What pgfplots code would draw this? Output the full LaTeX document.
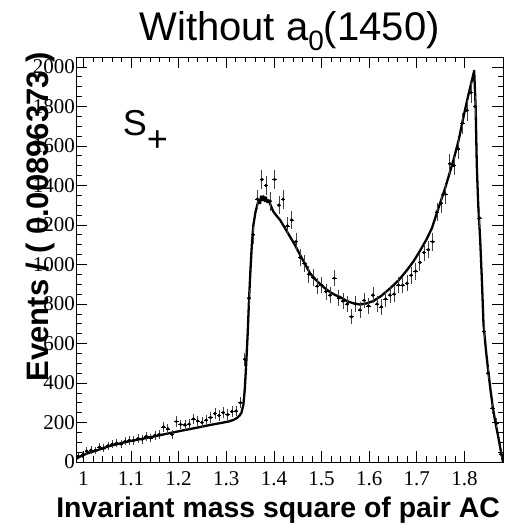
\documentclass[border=0pt]{standalone}
\usepackage{pgfplots}
\pgfplotsset{compat=1.18}
\usepackage{pgfplotstable}
\usepackage{fontspec}
\setmainfont{Liberation Serif}
\newfontfamily\hel{Liberation Sans}

\pgfplotstableread{
x y ey
0.9891 30 5.5
0.9980 35 6
1.0070 55 7.4
1.0160 60 7.7
1.0249 58 7.6
1.0339 75 8.7
1.0429 70 8.4
1.0518 82 9.1
1.0608 90 9.5
1.0698 95 9.7
1.0787 92 9.6
1.0877 105 10.2
1.0966 110 10.5
1.1056 108 10.4
1.1146 118 10.9
1.1235 115 10.7
1.1325 130 11.4
1.1415 122 11
1.1504 135 11.6
1.1594 140 11.8
1.1684 178 13.3
1.1773 168 13
1.1863 140 11.8
1.1953 205 14.3
1.2042 190 13.8
1.2132 188 13.7
1.2222 192 13.9
1.2311 218 14.8
1.2401 208 14.4
1.2491 200 14.1
1.2580 212 14.6
1.2670 225 15
1.2760 245 15.7
1.2849 235 15.3
1.2939 250 15.8
1.3029 240 15.5
1.3118 255 16
1.3208 258 16.1
1.3298 300 17.3
1.3387 520 22.8
1.3477 830 28.8
1.3567 1150 33.9
1.3656 1330 36.5
1.3746 1430 37.8
1.3836 1400 37.4
1.3925 1320 36.3
1.4015 1430 37.8
1.4105 1300 36.1
1.4194 1330 36.5
1.4284 1195 34.6
1.4374 1225 35
1.4463 1115 33.4
1.4553 1035 32.2
1.4643 1005 31.7
1.4732 950 30.8
1.4822 935 30.6
1.4911 890 29.8
1.5001 895 29.9
1.5091 862 29.4
1.5180 845 29.1
1.5270 930 30.5
1.5360 830 28.8
1.5449 815 28.5
1.5539 800 28.3
1.5629 735 27.1
1.5718 800 28.3
1.5808 770 27.7
1.5898 818 28.6
1.5987 790 28.1
1.6077 845 29.1
1.6167 800 28.3
1.6256 785 28
1.6346 825 28.7
1.6436 845 29.1
1.6525 850 29.2
1.6615 895 29.9
1.6705 895 29.9
1.6794 905 30.1
1.6884 945 30.7
1.6974 965 31.1
1.7063 1010 31.8
1.7153 1060 32.6
1.7243 1075 32.8
1.7332 1115 33.4
1.7422 1265 35.6
1.7512 1310 36.2
1.7601 1355 36.8
1.7691 1510 38.9
1.7781 1500 38.7
1.7870 1585 39.8
1.7960 1715 41.4
1.8050 1780 42.2
1.8139 1870 43.2
1.8229 1800 42.4
1.8319 1235 35.1
1.8408 660 25.7
1.8498 450 21.2
1.8588 272 16.5
1.8677 196 14
1.8767 40 6.3
}\datatable

\pgfplotstableread{
x y
0.9846 15
0.995 30
1.01 45
1.03 60
1.055 81
1.08 96
1.10 107
1.125 118
1.15 130
1.175 143
1.195 153
1.22 165
1.245 177
1.265 187
1.29 198
1.305 205
1.315 213
1.322 222
1.328 235
1.332 250
1.336 290
1.339 370
1.342 500
1.345 650
1.348 830
1.351 980
1.354 1110
1.357 1200
1.361 1260
1.365 1300
1.368 1326
1.371 1310
1.373 1345
1.376 1325
1.378 1345
1.381 1320
1.383 1340
1.386 1315
1.389 1325
1.394 1295
1.399 1267
1.406 1245
1.413 1225
1.423 1185
1.434 1140
1.445 1095
1.455 1048
1.466 1000
1.476 955
1.487 925
1.497 900
1.508 878
1.518 860
1.529 845
1.539 835
1.553 815
1.567 803
1.581 797
1.595 803
1.609 815
1.625 840
1.644 879
1.662 920
1.679 970
1.693 1015
1.707 1070
1.720 1125
1.732 1185
1.742 1260
1.760 1390
1.777 1528
1.788 1630
1.798 1747
1.808 1855
1.815 1925
1.8205 1980
1.8235 1800
1.826 1500
1.829 1300
1.833 1130
1.837 900
1.840 700
1.845 570
1.850 460
1.855 360
1.860 270
1.865 200
1.870 140
1.875 75
1.881 0
}\curvetable

\begin{document}
\begin{tikzpicture}
\begin{axis}[
  scale only axis, width=427pt, height=405pt,
  at={(0pt,0pt)}, anchor=south west,
  xmin=0.9846, xmax=1.8810, ymin=0, ymax=2050,
  xtick={1,1.1,1.2,1.3,1.4,1.5,1.6,1.7,1.8},
  xticklabels={1,1.1,1.2,1.3,1.4,1.5,1.6,1.7,1.8},
  ytick={0,200,400,600,800,1000,1200,1400,1600,1800,2000},
  yticklabels={0,200,400,600,800,1000,1200,1400,1600,1800,2000},
  minor x tick num=4, minor y tick num=3,
  xtick pos=both, ytick pos=both,
  xticklabel pos=lower, yticklabel pos=left,
  tick align=inside,
  major tick length=11pt, minor tick length=5.5pt,
  tick style={black, line width=0.6pt},
  axis line style={line width=0.8pt},
  ticklabel style={font=\fontsize{21}{21}\selectfont},
  /pgf/number format/assume math mode=true,
  xticklabel style={yshift=-6pt},
  yticklabel style={inner sep=1pt},
  clip=true,
]
\addplot[black, line width=2.3pt, line join=round] table[x=x,y=y]{\curvetable};
\addplot[only marks, mark=*, mark size=1.3pt, black,
  error bars/.cd, x dir=both, x fixed=0.00448, error mark=none,
  error bar style={line width=0.6pt, black}]
  table[x=x,y=y]{\datatable};
\addplot[only marks, mark=*, mark size=1.3pt, black,
  error bars/.cd, y dir=both, y explicit, error mark=-,
  error mark options={mark size=2.2pt, line width=0.6pt, black!75},
  error bar style={line width=0.6pt, black!75}]
  table[x=x,y=y,y error=ey]{\datatable};
\end{axis}
\node[anchor=base, font=\hel\fontsize{40}{40}\selectfont, inner sep=0pt] at (213.5pt,421pt)
  {Without a\raisebox{-10pt}{\fontsize{28}{28}\selectfont 0}(1450)};
\node[anchor=base west, font=\hel\fontsize{36}{36}\selectfont, inner sep=0pt] at (46.7pt,326pt)
  {S\raisebox{-16pt}{+}};
\node[anchor=base east, font=\hel\bfseries\fontsize{28.4}{28.4}\selectfont, inner sep=0pt] at (424pt,-56pt)
  {Invariant mass square of pair AC};
\node[rotate=90, anchor=east, font=\hel\bfseries\fontsize{31}{31}\selectfont, inner sep=0pt] at (-36pt,410pt)
  {Events / ( 0.00896373 )};
\pgfresetboundingbox
\path[use as bounding box] (-76pt,-67pt) rectangle (432pt,462pt);
\end{tikzpicture}
\end{document}
